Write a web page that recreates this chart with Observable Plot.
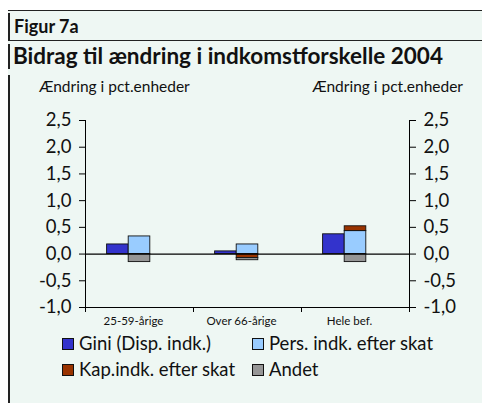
<!DOCTYPE html>
<html><head><meta charset="utf-8">
<script src="https://cdn.jsdelivr.net/npm/d3@7"></script>
<script src="https://cdn.jsdelivr.net/npm/@observablehq/plot@0.6"></script>
<style>
html,body{margin:0;padding:0;background:#fff;}
#wrap{position:relative;width:482px;height:403px;overflow:hidden;font-family:Lato,sans-serif;color:#111;}
#panel{position:absolute;left:8px;top:10px;right:0;bottom:0;background:#EEF7F3;}
.hline{position:absolute;left:8px;right:0;height:1px;background:#222;}
.vbar{position:absolute;left:8px;width:2px;background:#222;}
.t{position:absolute;white-space:nowrap;line-height:1;}
#chart{position:absolute;left:0;top:0;}
.sw{position:absolute;width:12px;height:12px;border:1px solid #111;box-sizing:border-box;}
</style></head>
<body>
<div id="wrap">
  <div id="panel"></div>
  <div class="hline" style="top:10px"></div>
  <div class="hline" style="top:40px"></div>
  <div class="vbar" style="top:13px;height:27px"></div>
  <div class="vbar" style="top:44px;height:25px"></div>
  <div class="vbar" style="top:75px;height:328px"></div>
  <div class="t" id="fig" style="left:14px;top:17px;font-size:18px;font-weight:bold;">Figur 7a</div>
  <div class="t" id="title" style="left:13px;top:45px;font-size:22.5px;font-weight:bold;">Bidrag til ændring i indkomstforskelle 2004</div>
  <div class="t" id="unitL" style="left:39px;top:79px;font-size:15.5px;">Ændring i pct.enheder</div>
  <div class="t" id="unitR" style="right:19px;top:79px;font-size:15.5px;">Ændring i pct.enheder</div>
  <div id="chart"></div>
  <div id="legend"></div>
</div>
<script>
const categories = ["25-59-årige", "Over 66-årige", "Hele bef."];
const seriesNames = ["Gini (Disp. indk.)", "Pers. indk. efter skat", "Kap.indk. efter skat", "Andet"];
const giniValues = [0.18, 0.05, 0.37];
const persValues = [0.33, 0.18, 0.43];
const kapValues = [0.0, -0.075, 0.09];
const andetValues = [-0.15, -0.04, -0.15];
const seriesColors = ["#3333CC", "#99CCFF", "#993300", "#969696"];
const yTicks = [-1, -0.5, 0, 0.5, 1, 1.5, 2, 2.5];

const valueSets = [giniValues, persValues, kapValues, andetValues];
const rows = [];
categories.forEach((cat, i) => {
  seriesNames.forEach((s, k) => {
    rows.push({cat, i, series: s, value: valueSets[k][i], slot: k === 0 ? 0 : 1});
  });
});

const fmt = d => d.toFixed(1).replace(".", ",");

const chart = Plot.plot({
  width: 482,
  height: 340,
  marginLeft: 85,
  marginRight: 73,
  marginTop: 120,
  marginBottom: 33,
  style: {fontFamily: "Lato, sans-serif", background: "transparent", color: "#111"},
  x: {type: "linear", domain: [0, 3], axis: null},
  y: {domain: [-1, 2.5], axis: null},
  color: {domain: seriesNames, range: seriesColors},
  marks: [
    Plot.rectY(rows, {
      x: d => d.cat + "|" + d.slot,
      x1: d => d.i + (1 + d.slot) / 5,
      x2: d => d.i + (2 + d.slot) / 5,
      y: "value",
      fill: "series",
      stroke: "#111",
      strokeWidth: 0.9
    }),
    Plot.ruleY([0], {stroke: "#000", strokeWidth: 1.2}),
    Plot.ruleY([-1], {stroke: "#000", strokeWidth: 1}),
    Plot.ruleX([0, 3], {y1: -1, y2: 2.5, stroke: "#000", strokeWidth: 1}),
    Plot.axisY(yTicks, {anchor: "left", tickSize: 6, tickPadding: 8, tickFormat: fmt, fontSize: 18.5, label: null, stroke: "#000"}),
    Plot.axisY(yTicks, {anchor: "right", tickSize: 6, tickPadding: 8, tickFormat: fmt, fontSize: 18.5, label: null, stroke: "#000"}),
    Plot.axisX([0, 1, 2, 3], {anchor: "bottom", tickSize: 5, tickFormat: () => "", label: null, stroke: "#000"}),
    Plot.axisX([0.5, 1.5, 2.5], {anchor: "bottom", tickSize: 0, tickPadding: 9, dx: -6, tickFormat: d => categories[Math.floor(d)], fontSize: 11.5, label: null})
  ]
});
document.getElementById("chart").appendChild(chart);

// legend
const legend = document.getElementById("legend");
const pos = [[62, 338], [252, 338], [62, 364], [252, 364]];
seriesNames.forEach((s, k) => {
  const sw = document.createElement("div");
  sw.className = "sw";
  sw.style.left = pos[k][0] + "px";
  sw.style.top = pos[k][1] + "px";
  sw.style.background = seriesColors[k];
  legend.appendChild(sw);
  const t = document.createElement("div");
  t.className = "t";
  t.style.left = (pos[k][0] + 17) + "px";
  t.style.top = (pos[k][1] - 4) + "px";
  t.style.fontSize = "18.5px";
  t.textContent = s;
  legend.appendChild(t);
});
</script>
</body></html>
